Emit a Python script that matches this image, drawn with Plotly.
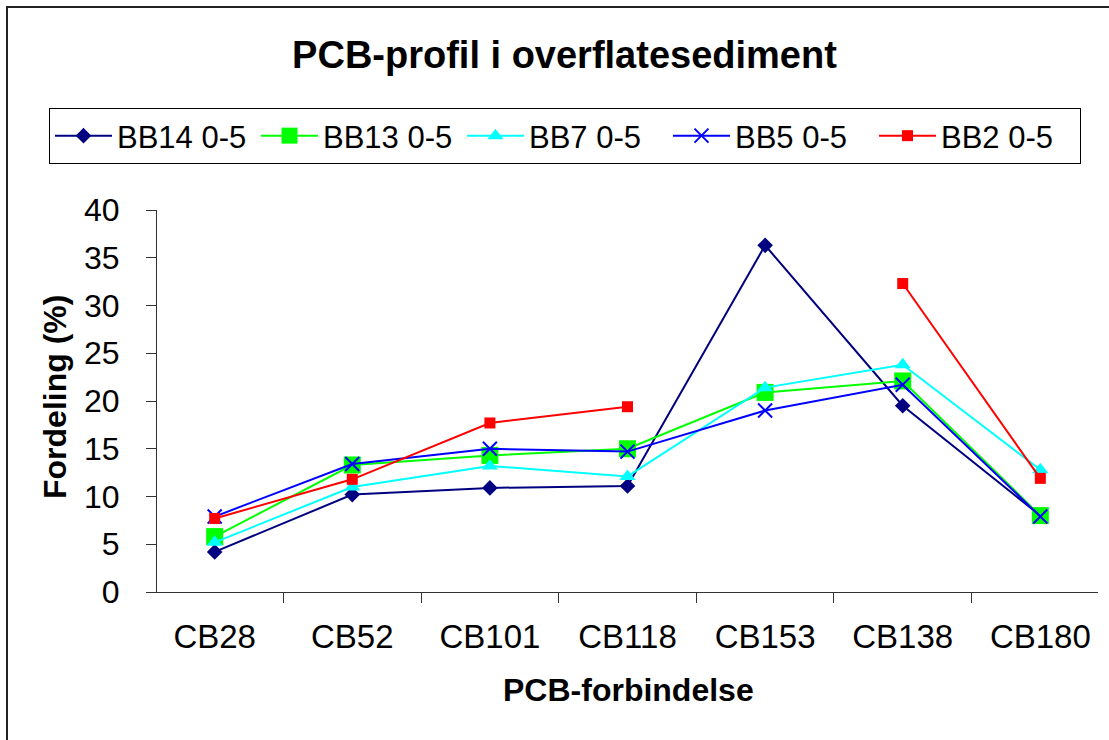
import plotly.graph_objects as go

categories = ["CB28", "CB52", "CB101", "CB118", "CB153", "CB138", "CB180"]
bb14 = [4.2, 10.2, 10.9, 11.1, 36.3, 19.5, 8.0]
bb13 = [5.8, 13.3, 14.3, 15.0, 20.9, 22.1, 8.0]
bb7 = [5.2, 11.0, 13.2, 12.1, 21.4, 23.8, 12.8]
bb5 = [7.9, 13.4, 15.0, 14.7, 19.0, 21.7, 7.9]
bb2 = [7.7, 11.8, 17.7, 19.4, None, 32.3, 11.9]
y_ticks = [0, 5, 10, 15, 20, 25, 30, 35, 40]

FONT = "Liberation Sans, Arial, sans-serif"

series = [
    ("BB14 0-5", bb14, "#000080", "diamond", 12, {}),
    ("BB13 0-5", bb13, "#00FF00", "square", 17, {}),
    ("BB7 0-5", bb7, "#00FFFF", "triangle-up", 14, {}),
    ("BB5 0-5", bb5, "#0000FF", "x-thin", 14, {"line": dict(color="#0000FF", width=2)}),
    ("BB2 0-5", bb2, "#FF0000", "square", 11, {}),
]

fig = go.Figure()
for name, vals, color, sym, size, extra in series:
    marker = dict(symbol=sym, size=size, color=color)
    marker.update(extra)
    fig.add_trace(go.Scatter(
        x=categories, y=vals, name=name, mode="lines+markers",
        line=dict(color=color, width=2), marker=marker, connectgaps=False,
    ))

L, R, T, B = 157, 11, 210, 148
W, H = 1109, 740
pw, ph = W - L - R, H - T - B

def px_x(p):
    return (p - L) / pw

def px_y(p):
    return (H - B - p) / ph

fig.update_layout(
    width=W, height=H,
    margin=dict(l=L, r=R, t=T, b=B, autoexpand=False),
    paper_bgcolor="white", plot_bgcolor="white",
    font=dict(family=FONT, size=31, color="black"),
    title=dict(text="<b>PCB-profil i overflatesediment</b>", x=0.509, xref="container",
               y=1 - 55 / H, yref="container", xanchor="center", yanchor="middle",
               font=dict(size=38, family=FONT, color="black")),
    showlegend=True,
    legend=dict(orientation="h", x=px_x(49), y=px_y(108), xanchor="left", yanchor="top",
                bordercolor="black", borderwidth=1, bgcolor="white", itemwidth=57,
                entrywidth=134, entrywidthmode="pixels",
                font=dict(size=31, family=FONT), traceorder="normal"),
    xaxis=dict(type="category", categoryorder="array", categoryarray=categories,
               tickson="boundaries", ticks="outside", ticklen=10, tickcolor="#333",
               showline=True, linecolor="#333", linewidth=1, showgrid=False,
               tickfont=dict(size=33), ticklabelstandoff=15, automargin=False),
    yaxis=dict(range=[0, 40], tickvals=y_ticks, ticks="outside", ticklen=10, tickcolor="#333",
               showline=True, linecolor="#333", linewidth=1, showgrid=False, zeroline=False,
               tickfont=dict(size=32), ticklabelstandoff=20, automargin=False),
    annotations=[
        dict(text="<b>Fordeling (%)</b>", textangle=-90, xref="paper", yref="paper",
             x=px_x(55), y=px_y(397), xanchor="center", yanchor="middle", showarrow=False,
             font=dict(size=32, family=FONT)),
        dict(text="<b>PCB-forbindelse</b>", xref="paper", yref="paper",
             x=px_x(628), y=px_y(690), xanchor="center", yanchor="middle", showarrow=False,
             font=dict(size=32, family=FONT)),
    ],
    shapes=[dict(type="rect", xref="paper", yref="paper",
                 x0=px_x(7), y0=px_y(760), x1=px_x(1130), y1=px_y(7),
                 line=dict(color="#222", width=2), layer="below")],
)

fig.write_html("out.html", config={"displayModeBar": False},
               post_script="document.body.style.margin='0px';")
